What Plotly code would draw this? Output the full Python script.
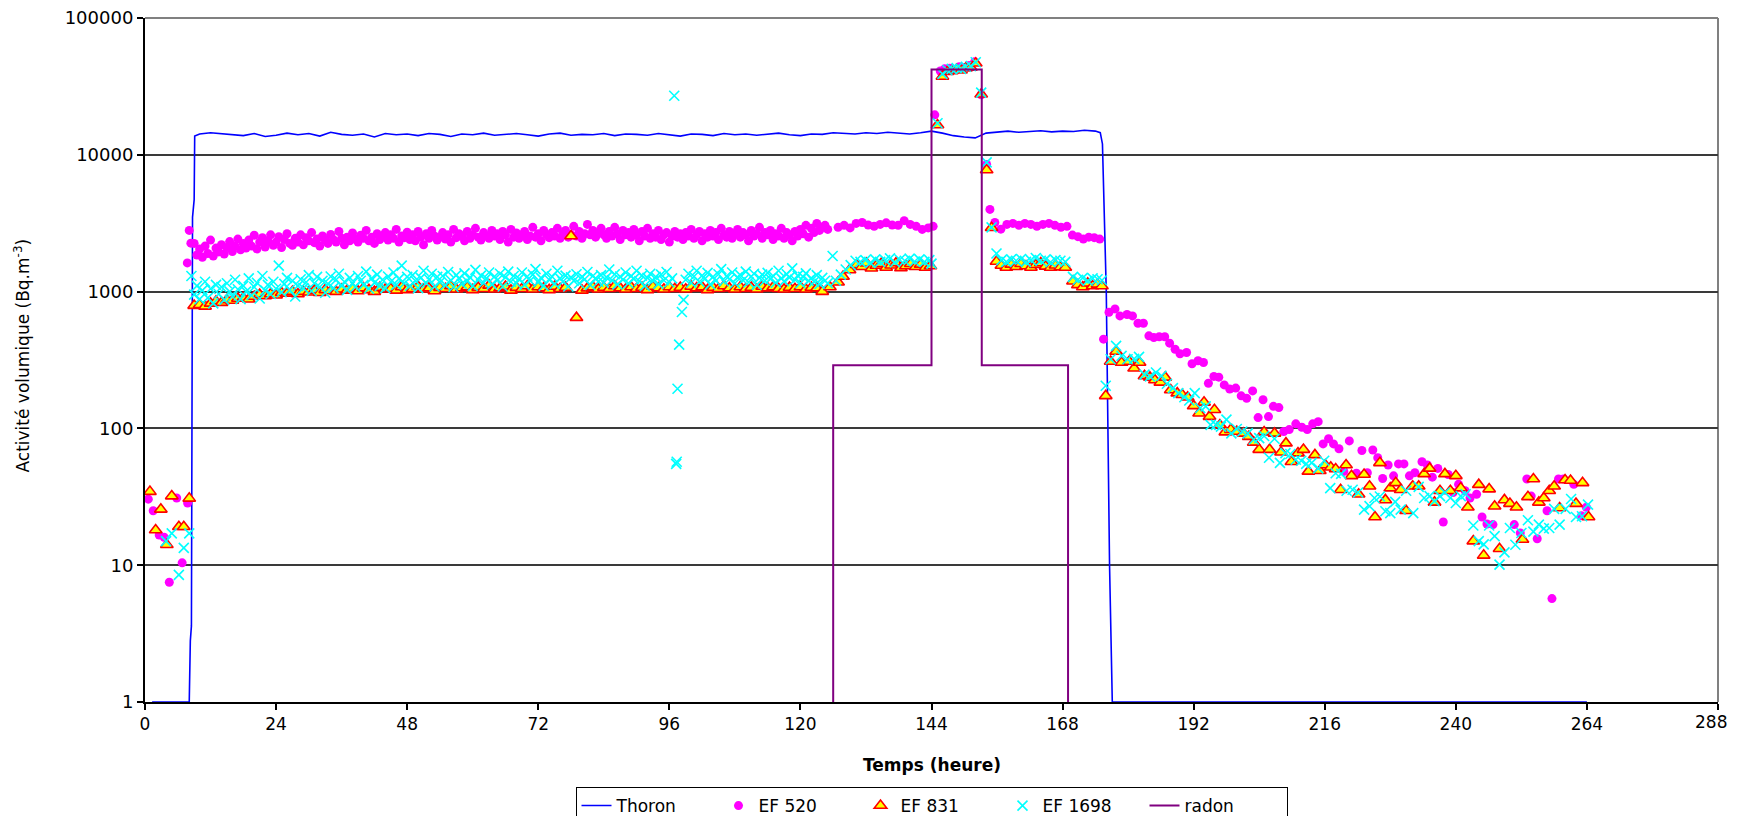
import numpy as np
import plotly.graph_objects as go

# ---------------- DATA ----------------
x_ticks = [0, 24, 48, 72, 96, 120, 144, 168, 192, 216, 240, 264, 288]
x_tick_labels = ["0", "24", "48", "72", "96", "120", "144", "168", "192", "216", "240", "264", ""]
x_last_label = "288"
y_ticks = [1, 10, 100, 1000, 10000, 100000]
y_tick_labels = ["1", "10", "100", "1000", "10000", "100000"]

# Thoron (line)
thoron_start_x = [1.3, 8.1, 8.3, 8.5, 8.7, 9.0, 9.1]
thoron_start_y = [1, 1, 2.8, 3.6, 3500, 4700, 13700]
thoron_plateau_t0 = 10.0
thoron_plateau_dt = 2.0
thoron_plateau_y = [
    14200, 14500, 14300, 14100, 13800, 14300, 13600, 13900, 14400, 14000,
    14300, 13700, 14600, 14100, 13900, 14200, 13500, 14300, 14000, 14200,
    13800, 14300, 14100, 13600, 14200, 14000, 14400, 13900, 14100, 14300,
    14000, 13700, 14200, 14400, 13900, 14100, 14000, 14300, 13800, 14200,
    14100, 13900, 14300, 14000, 13700, 14200, 14100, 13800, 14300, 14000,
    14200, 13900, 14100, 14400, 14000, 13800, 14200, 14100, 14500, 14300,
    14200, 14500, 14300, 14600, 14400, 14200, 14500, 14900, 14400, 13800,
    13500, 13300, 14400, 14700, 14900, 14600, 14800, 15000, 14700, 14900,
    14800, 15100, 14900]
thoron_end_x = [174.9, 175.3, 175.4, 175.6, 176.0, 176.6, 177.1, 264.0]
thoron_end_y = [14500, 12000, 8700, 3800, 1000, 10, 1, 1]

# EF 520 (magenta dots)
ef520_early_x = [0.6, 1.5, 2.6, 3.5, 4.45, 5.8, 6.8, 7.8, 7.75, 8.1, 8.4]
ef520_early_y = [30.4, 25, 16.6, 16, 7.5, 31, 10.4, 28.5, 1620, 2800, 2260]
ef520_cloud_t0 = 9.0
ef520_cloud_dt = 0.5
ef520_cloud_y = [
    2250, 1850, 2050, 1780, 2150, 1900, 2380, 1820, 2080, 1950,
    2200, 1880, 2100, 2320, 1960, 2150, 2420, 2020, 2250, 2080,
    2380, 2150, 2580, 2050, 2300, 2480, 2120, 2350, 2600, 2180,
    2300, 2520, 2100, 2400, 2650, 2250, 2180, 2450, 2300, 2600,
    2200, 2480, 2350, 2700, 2280, 2420, 2150, 2550, 2380, 2250,
    2620, 2400, 2300, 2750, 2450, 2200, 2500, 2350, 2680, 2420,
    2300, 2580, 2450, 2800, 2350, 2500, 2250, 2650, 2400, 2550,
    2700, 2380, 2600, 2450, 2850, 2300, 2550, 2480, 2720, 2400,
    2600, 2350, 2750, 2500, 2200, 2650, 2450, 2800, 2550, 2380,
    2500, 2700, 2420, 2600, 2300, 2850, 2480, 2650, 2550, 2350,
    2750, 2450, 2600, 2900, 2500, 2380, 2700, 2550, 2450, 2800,
    2550, 2650, 2400, 2750, 2600, 2300, 2850, 2500, 2680, 2450,
    2600, 2750, 2400, 2550, 2950, 2500, 2650, 2350, 2800, 2600,
    2480, 2700, 2550, 2900, 2450, 2650, 2800, 2500, 2600, 3000,
    2550, 2750, 2450, 2650, 3100, 2600, 2800, 2500, 2700, 2900,
    2600, 2450, 2750, 2550, 2950, 2650, 2400, 2800, 2600, 2700,
    2500, 2850, 2600, 2350, 2750, 2550, 2900, 2450, 2650, 2500,
    2800, 2400, 2600, 2700, 2300, 2550, 2750, 2500, 2650, 2400,
    2700, 2550, 2850, 2450, 2600, 2750, 2350, 2650, 2500, 2800,
    2550, 2700, 2400, 2900, 2600, 2500, 2750, 2450, 2650, 2850,
    2500, 2700, 2600, 2350, 2800, 2550, 2650, 2950, 2450, 2700,
    2600, 2800, 2400, 2650, 2550, 2900, 2450, 2700, 2600, 2350,
    2750, 2550, 2850, 2650, 3050, 2500, 2900, 2700, 3150, 2800,
    2950, 3050, 2850]
ef520_late_x = [126.9, 128.0, 129.1, 130.2, 131.3, 132.4, 133.5, 134.6, 135.7, 136.8,
                137.9, 139.0, 140.1, 141.2, 142.3, 143.4, 144.3,
                144.6, 145.6, 146.4, 147.3, 148.2, 149.1, 150.0, 150.9, 151.9,
                153.1, 154.1, 154.7,
                155.6, 156.7, 157.8, 158.9, 160.0, 161.1, 162.2, 163.3, 164.4, 165.5,
                166.6, 167.7, 168.8, 169.8, 170.8, 171.8, 172.8, 173.8, 174.8,
                175.5, 176.5, 177.6, 178.5, 179.8, 180.8, 181.8, 182.8, 183.8, 184.7,
                185.7, 186.7, 187.6, 188.6, 189.5, 190.7, 191.7, 192.8, 193.8, 194.7,
                195.7, 196.6, 197.6, 198.6, 199.7, 200.7, 201.7, 202.8, 203.8, 204.7,
                205.7, 206.6, 207.6, 208.5, 209.5, 210.7, 211.8, 212.8, 213.8, 214.8,
                215.7, 216.7, 217.6, 218.6, 219.5, 220.5, 221.8, 222.8, 223.8, 224.8,
                225.7, 226.6, 227.6, 228.6, 229.5, 230.5, 231.5, 232.5, 233.8, 234.8,
                235.7, 236.7, 237.7, 238.6, 239.5, 240.5, 241.7, 242.6, 243.8, 244.8,
                245.7, 246.8, 250.7, 251.8, 253.0, 253.8, 254.9, 256.7, 257.6, 258.8,
                259.7, 261.6, 263.0, 263.9]
ef520_late_y = [2950, 3050, 2920, 3150, 3200, 3070, 3000, 3100, 3180, 3070,
                3050, 3300, 3100, 3000, 2850, 2920, 3000,
                19600, 41000, 42500, 43000, 42000, 44000, 43500, 45000, 47800,
                27500, 8500, 3990,
                3200, 2860, 3100, 3150, 3050, 3150, 3100, 3000, 3100, 3150,
                3050, 2950, 3000, 2590, 2520, 2420, 2500, 2480, 2420,
                449, 706, 747, 664, 680, 664, 587, 587, 475, 461,
                468, 468, 420, 379, 351, 359, 297, 312, 303, 214,
                240, 237, 208, 194, 197, 173, 166, 188, 120, 162,
                122, 145, 142, 95, 98, 108, 102, 98, 108, 112,
                77, 84, 77, 71, 48.5, 81, 47, 69, 47.5, 69.5,
                61, 43, 54, 45, 55, 55, 45, 47.5, 57, 54,
                44, 51, 20.7, 46, 34, 39, 35, 31, 33, 22.5,
                20, 19.8, 19.8, 17.2, 42.7, 32, 15.6, 25, 5.7, 42.7,
                42.7, 39, 23, 26.5]

# EF 831 (triangles)
ef831_early_x = [0.9, 1.95, 2.9, 4.0, 4.9, 6.2, 7.1, 8.1]
ef831_early_y = [34.5, 18.1, 25.6, 14.1, 32, 19.1, 19.1, 30.8]
ef831_cloud_t0 = 9.0
ef831_cloud_dt = 1.0
ef831_cloud_y = [
    790, 800, 780, 820, 850, 830, 870, 860, 890, 900,
    880, 920, 950, 930, 960, 940, 980, 970, 1000, 960,
    1000, 990, 1020, 980, 1030, 1010, 1000, 1040, 1020, 1050,
    1010, 1060, 1030, 1000, 1070, 1040, 1050, 1020, 1080, 1030,
    1050, 1090, 1040, 1060, 1010, 1070, 1050, 1100, 1040, 1060,
    1080, 1030, 1070, 1050, 1110, 1040, 1060, 1090, 1020, 1070,
    1050, 1100, 1040, 1080, 1060, 1030, 1090, 1050, 1070, 2550,
    645, 1020, 1060, 1080, 1040, 1070, 1050, 1100, 1060, 1040,
    1080, 1050, 1070, 1030, 1090, 1060, 1040, 1080, 1050, 1070,
    1040, 1090, 1060, 1080, 1030, 1070, 1050, 1100, 1060, 1040,
    1080, 1050, 1070, 1040, 1090, 1060, 1080, 1050, 1040, 1070,
    1050, 1080, 1040, 1070, 1060]
ef831_late_x = [124.0, 125.4, 126.9, 127.8, 129.0, 130.3, 131.2, 132.1, 133.0, 133.9,
                134.8, 135.7, 136.6, 137.5, 138.4, 139.3, 140.2, 141.1, 142.0, 142.9,
                143.8,
                145.1, 146.0, 146.9, 147.7, 148.6, 149.4, 150.3, 151.2, 152.1, 153.1,
                154.1, 155.0,
                155.9, 156.8, 157.7, 158.6, 159.5, 160.4, 161.3, 162.2, 163.1, 164.0,
                164.9, 165.8, 166.7, 167.6, 168.5, 169.9, 170.8, 171.7, 172.6, 173.5,
                174.4, 175.2,
                175.9, 176.8, 177.8, 178.8, 180.2, 181.1, 182.1, 183.0, 184.0, 184.9,
                185.9, 186.8, 187.8, 189.0, 189.9, 190.9, 192.0, 193.0, 193.9, 194.9,
                195.8, 196.8, 197.8, 198.8, 199.9, 201.1, 202.1, 203.0, 204.0, 204.9,
                205.9, 206.8, 208.0, 208.9, 209.9, 211.1, 212.1, 213.0, 214.2, 215.1,
                216.1, 217.1, 218.0, 218.9, 219.9, 220.9, 222.2, 223.2, 224.2, 225.2,
                226.1, 227.1, 228.0, 229.0, 229.9, 230.9, 232.1, 233.2, 234.2, 235.2,
                236.1, 237.1, 238.0, 239.0, 240.0, 240.9, 242.2, 243.2, 244.2, 245.1,
                246.1, 247.1, 248.0, 248.9, 249.9, 251.1, 252.2, 253.2, 254.2, 255.2,
                256.1, 257.1, 258.0, 259.0, 260.0, 261.0, 262.0, 263.2, 264.3]
ef831_late_y = [1000, 1080, 1170, 1290, 1440, 1570, 1520, 1610, 1480, 1550,
                1600, 1500, 1560, 1620, 1490, 1540, 1600, 1520, 1580, 1500,
                1540,
                16500, 37400, 40500, 41000, 42000, 41500, 43000, 43500, 46700, 27700,
                7750, 2930,
                1660, 1550, 1500, 1580, 1520, 1600, 1540, 1500, 1570, 1620,
                1530, 1500, 1560, 1510, 1500, 1190, 1120, 1080, 1150, 1100,
                1130, 1100,
                173, 308, 365, 303, 308, 275, 303, 242, 236, 226,
                217, 236, 191, 181, 176, 169, 146, 129, 155, 122,
                137, 106, 94, 98, 95, 92, 87, 79, 70, 94,
                70, 92, 67, 78, 57, 66, 70, 48.5, 64, 49,
                54, 52, 50.5, 35.6, 54, 45, 33, 46, 37.8, 22.5,
                56, 30, 36.6, 40, 35.6, 25, 37.8, 37.8, 46.5, 51,
                28.8, 35, 46.5, 35, 45, 36.6, 26.5, 15, 38.8, 11.8,
                36, 27, 13.2, 30, 28.2, 26.5, 15.4, 31.6, 42.7, 28.8,
                31, 35, 37.8, 26.2, 42, 41.6, 28.2, 40, 22.5]

# EF 1698 (cyan crosses)
ef1698_early_x = [3.85, 4.9, 6.2, 7.1, 8.1]
ef1698_early_y = [15, 17.1, 8.5, 13.4, 17.1]
ef1698_cloud_a_t0 = 8.5
ef1698_cloud_b_t0 = 99.0
ef1698_cloud_dt = 0.5
ef1698_cloud_a_y = [
    1300, 950, 1100, 880, 1020, 1180, 900, 1050, 820, 1120,
    960, 1080, 870, 1150, 1000, 920, 1220, 1040, 880, 1100,
    1000, 1250, 940, 1080, 1160, 890, 1300, 1020, 1120, 960,
    1180, 1050, 1550, 990, 1140, 1260, 1030, 1200, 920, 1100,
    1230, 1060, 1170, 1320, 1010, 1150, 1280, 1080, 1200, 980,
    1140, 1290, 1060, 1220, 1350, 1100, 1180, 1030, 1260, 1150,
    1080, 1300, 1200, 1120, 1400, 1050, 1250, 1160, 1330, 1100,
    1220, 1060, 1290, 1180, 1380, 1120, 1240, 1550, 1150, 1280,
    1100, 1320, 1200, 1060, 1260, 1420, 1150, 1230, 1350, 1090,
    1280, 1170, 1300, 1120, 1390, 1210, 1080, 1320, 1250, 1140,
    1360, 1190, 1270, 1100, 1440, 1220, 1310, 1160, 1250, 1380,
    1130, 1290, 1210, 1350, 1090, 1270, 1400, 1180, 1300, 1150,
    1240, 1380, 1120, 1290, 1200, 1330, 1460, 1170, 1260, 1100,
    1350, 1220, 1290, 1140, 1420, 1250, 1180, 1310, 1090, 1270,
    1200, 1340, 1150, 1280, 1230, 1390, 1120, 1300, 1250, 1180,
    1320, 1160, 1270, 1450, 1210, 1340, 1130, 1290, 1220, 1380,
    1150, 1300, 1240, 1420, 1190, 1310, 1100, 1260, 1350, 1200,
    1280, 1140, 1330, 1210, 1390, 1170, 1250]
ef1698_cloud_b_y = [
    1220, 1350, 1160, 1290, 1420, 1180, 1310, 1240, 1370, 1130,
    1280, 1200, 1340, 1460, 1190, 1300, 1230, 1380, 1150, 1270,
    1320, 1210, 1400, 1170, 1290, 1350, 1120, 1260, 1330, 1200,
    1370, 1240, 1300, 1160, 1420, 1250, 1190, 1340, 1270, 1480,
    1220, 1310, 1150, 1280, 1360, 1200, 1250, 1180, 1320, 1140,
    1260, 1200, 1150]
ef1698_late_x = [96.9, 97.25, 97.35, 97.5, 97.8, 98.3, 98.6,
                 125.9, 126.5, 127.4, 128.3, 129.2, 130.1, 131.0, 131.9, 132.8, 133.7,
                 134.6, 135.5, 136.4, 137.3, 138.2, 139.1, 140.0, 140.9, 141.8, 142.7,
                 143.6, 144.0,
                 145.1, 146.0, 146.9, 147.7, 148.6, 149.4, 150.3, 151.2, 152.1, 153.1,
                 154.1, 155.0,
                 155.9, 156.8, 157.7, 158.6, 159.5, 160.4, 161.3, 162.2, 163.1, 164.0,
                 164.9, 165.8, 166.7, 167.6, 168.5, 169.9, 170.8, 171.7, 172.6, 173.5,
                 174.4, 175.2,
                 175.9, 176.8, 177.8, 178.8, 179.9, 181.1, 182.0, 183.0, 184.0, 185.1,
                 186.1, 187.1, 188.2, 189.2, 190.3, 191.2, 192.2, 193.2, 194.2, 195.1,
                 196.1, 197.0, 198.0, 198.9, 199.9, 200.9, 201.9, 203.0, 204.0, 204.9,
                 205.8, 206.8, 207.8, 208.8, 209.7, 210.7, 211.7, 212.6, 213.6, 214.8,
                 215.9, 217.0, 218.0, 219.0, 220.0, 221.1, 222.1, 223.2, 224.2, 225.1,
                 226.1, 227.1, 228.0, 228.9, 229.9, 230.9, 232.2, 233.2, 234.2, 235.2,
                 236.1, 237.1, 238.0, 239.0, 240.0, 240.9, 241.8, 243.2, 244.2, 245.1,
                 246.1, 247.1, 248.0, 248.9, 249.9, 250.9, 252.0, 253.2, 254.2, 255.2,
                 256.1, 257.1, 258.0, 259.0, 260.1, 261.1, 262.0, 263.1, 264.2]
ef1698_late_y = [27000, 55, 57, 195, 410, 710, 870,
                 1820, 1200, 1330, 1450, 1560, 1680, 1650, 1700, 1620, 1720,
                 1650, 1700, 1750, 1640, 1710, 1680, 1740, 1660, 1720, 1650,
                 1700, 1600,
                 17000, 39000, 41500, 42500, 43000, 42500, 44000, 44500, 47500, 28500,
                 8800, 2950,
                 1900, 1700, 1650, 1720, 1680, 1730, 1650, 1700, 1760, 1680,
                 1720, 1640, 1700, 1680, 1650, 1280, 1220, 1260, 1200, 1250,
                 1230, 1210,
                 205, 320, 401, 339, 320, 322, 333, 247, 240, 256,
                 242, 212, 197, 181, 169, 160, 181, 141, 145, 106,
                 106, 103, 116, 92, 99, 95, 92, 83, 85, 88,
                 61, 84, 56, 66, 65, 59, 58, 55, 56, 51,
                 58, 36.6, 47, 46.5, 35, 35.6, 34, 25.5, 27, 31,
                 31.8, 24.8, 24, 29, 25.5, 35, 24, 37.4, 31, 32,
                 29.4, 32, 34, 31, 28.5, 32, 33, 19.5, 15, 14.2,
                 19.5, 16.3, 10.1, 12.4, 18.7, 14.1, 17.2, 21.3, 17.6, 19.8,
                 18.5, 18.7, 25.8, 19.8, 25.8, 30.5, 22.5, 22.8, 27.7]

# radon (step line)
radon_x = [126.0, 126.0, 144.0, 144.0, 153.2, 153.2, 169.0, 169.0]
radon_y = [1, 290, 290, 42000, 42000, 290, 290, 1]


# ---------------- BUILD ----------------
def grid(t0, dt, vals):
    return [t0 + dt * i for i in range(len(vals))]


thoron_x = thoron_start_x + grid(thoron_plateau_t0, thoron_plateau_dt, thoron_plateau_y) + thoron_end_x
thoron_y = thoron_start_y + thoron_plateau_y + thoron_end_y

ef520_x = ef520_early_x + grid(ef520_cloud_t0, ef520_cloud_dt, ef520_cloud_y) + ef520_late_x
ef520_y = ef520_early_y + ef520_cloud_y + ef520_late_y

ef831_x = ef831_early_x + grid(ef831_cloud_t0, ef831_cloud_dt, ef831_cloud_y) + ef831_late_x
ef831_y = ef831_early_y + ef831_cloud_y + ef831_late_y

ef1698_x = (ef1698_early_x + grid(ef1698_cloud_a_t0, ef1698_cloud_dt, ef1698_cloud_a_y)
            + grid(ef1698_cloud_b_t0, ef1698_cloud_dt, ef1698_cloud_b_y) + ef1698_late_x)
ef1698_y = ef1698_early_y + ef1698_cloud_a_y + ef1698_cloud_b_y + ef1698_late_y

FONT = "DejaVu Sans"

fig = go.Figure()
fig.add_trace(go.Scatter(x=thoron_x, y=thoron_y, mode="lines", name="Thoron",
                         line=dict(color="#0000FF", width=1.6)))
fig.add_trace(go.Scatter(x=ef520_x, y=ef520_y, mode="markers", name="EF 520",
                         marker=dict(symbol="circle", size=9, color="#FF00FF",
                                     line=dict(width=0))))
fig.add_trace(go.Scatter(x=ef831_x, y=ef831_y, mode="markers", name="EF 831",
                         marker=dict(symbol="triangle-up", size=11, color="#FFFF00",
                                     line=dict(color="#FF0000", width=1.6))))
fig.add_trace(go.Scatter(x=ef1698_x, y=ef1698_y, mode="markers", name="EF 1698",
                         marker=dict(symbol="x-thin", size=10, color="#00FFFF",
                                     line=dict(color="#00FFFF", width=1.6))))
fig.add_trace(go.Scatter(x=radon_x, y=radon_y, mode="lines", name="radon",
                         line=dict(color="#800080", width=2)))

# The page body keeps its default 8px margin, so the figure is sized to fit
# inside the 1738x824 window without scrollbars.
fig.update_layout(
    width=1722, height=808,
    margin=dict(l=137, r=12, t=10, b=114, autoexpand=False),
    paper_bgcolor="white", plot_bgcolor="white",
    font=dict(family=FONT, size=17, color="black"),
    showlegend=True,
    legend=dict(orientation="h", x=0.5, xanchor="center", y=-0.1243, yanchor="top",
                bordercolor="black", borderwidth=1, font=dict(family=FONT, size=17),
                entrywidth=97, entrywidthmode="pixels", itemsizing="trace",
                traceorder="normal"),
    xaxis=dict(range=[0, 288], tickvals=x_ticks, ticktext=x_tick_labels,
               showgrid=False, zeroline=False, showline=True, linecolor="black",
               linewidth=2, ticks="outside", ticklen=6, tickwidth=1.5,
               tickcolor="black", tickfont=dict(family=FONT, size=17),
               ticklabeloverflow="allow", layer="below traces"),
    yaxis=dict(type="log", range=[0, 5], tickvals=y_ticks, ticktext=y_tick_labels,
               showgrid=True, gridcolor="#3a3a3a", gridwidth=1.5, zeroline=False,
               showline=True, linecolor="black", linewidth=2, ticks="outside",
               ticklen=6, tickwidth=1.5, tickcolor="black",
               tickfont=dict(family=FONT, size=18), ticklabeloverflow="allow",
               layer="below traces"),
    shapes=[
        dict(type="line", xref="paper", yref="paper", x0=0, x1=1, y0=1, y1=1,
             line=dict(color="#808080", width=2), layer="below"),
        dict(type="line", xref="paper", yref="paper", x0=1, x1=1, y0=0, y1=1,
             line=dict(color="#808080", width=2), layer="below"),
    ],
    annotations=[
        dict(text=x_last_label, xref="x", yref="paper", x=x_ticks[-1], y=0,
             xanchor="right", yanchor="top", xshift=11, yshift=-8, showarrow=False,
             font=dict(family=FONT, size=17)),
        dict(text="<b>Temps (heure)</b>", xref="paper", yref="paper", x=0.5, y=-0.092,
             xanchor="center", yanchor="middle", showarrow=False,
             font=dict(family=FONT, size=17)),
        dict(text="Activité volumique (Bq.m<sup>-3</sup>)", xref="paper", yref="paper",
             x=-0.078, y=0.507, xanchor="center", yanchor="middle", textangle=-90,
             showarrow=False, font=dict(family=FONT, size=17)),
    ],
)

fig.write_html("out.html")
